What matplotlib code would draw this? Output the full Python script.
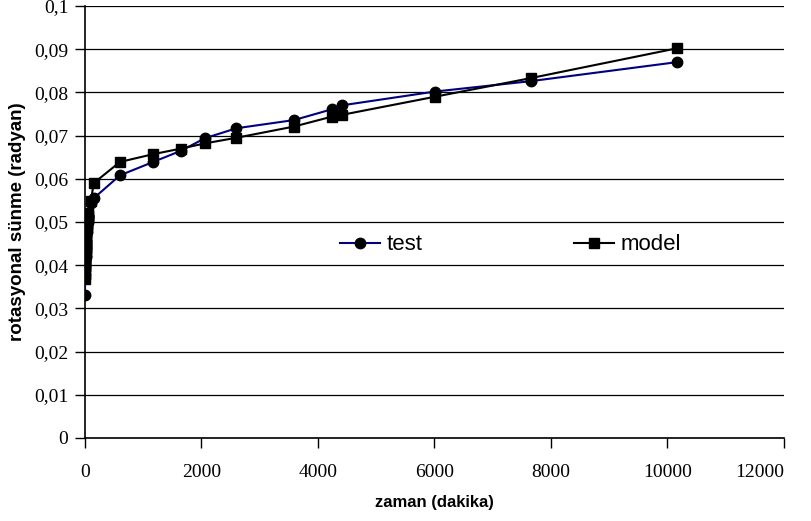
import matplotlib
matplotlib.use("Agg")
import matplotlib.pyplot as plt
from matplotlib.ticker import FixedLocator
from matplotlib.transforms import ScaledTranslation

# ---- data ----
time_min = [0, 1, 2, 3, 4, 5, 6, 7, 8, 9, 10, 12, 14, 16, 18, 20, 25, 30, 35, 40,
            45, 50, 55, 60, 100, 150, 600, 1170, 1650, 2060, 2600, 3590, 4240,
            4410, 6010, 7650, 10160]
test = [0.0330, 0.0370, 0.0380, 0.0388, 0.0395, 0.0400, 0.0405, 0.0410, 0.0414,
        0.0418, 0.0422, 0.0430, 0.0437, 0.0443, 0.0449, 0.0455, 0.0467, 0.0477,
        0.0486, 0.0494, 0.0500, 0.0506, 0.0511, 0.0515, 0.0543, 0.0555, 0.0608,
        0.0639, 0.0665, 0.0694, 0.0717, 0.0736, 0.0761, 0.0770, 0.0802, 0.0826,
        0.0870]
model = [0.0368, 0.0385, 0.0395, 0.0403, 0.0410, 0.0416, 0.0421, 0.0426, 0.0430,
         0.0434, 0.0438, 0.0445, 0.0451, 0.0457, 0.0462, 0.0467, 0.0477, 0.0486,
         0.0494, 0.0500, 0.0506, 0.0511, 0.0516, 0.0520, 0.0548, 0.0590, 0.0639,
         0.0657, 0.0670, 0.0682, 0.0695, 0.0721, 0.0744, 0.0748, 0.0790, 0.0833,
         0.0902]
x_ticks = [0, 2000, 4000, 6000, 8000, 10000, 12000]
x_tick_labels = ["0", "2000", "4000", "6000", "8000", "10000", "12000"]
y_ticks = [0, 0.01, 0.02, 0.03, 0.04, 0.05, 0.06, 0.07, 0.08, 0.09, 0.1]
y_tick_labels = ["0", "0,01", "0,02", "0,03", "0,04", "0,05", "0,06", "0,07",
                 "0,08", "0,09", "0,1"]
series_names = ["test", "model"]
x_label = "zaman (dakika)"
y_label = "rotasyonal sünme (radyan)"

# ---- figure ----
fig = plt.figure(figsize=(8.12, 5.21), dpi=100)
ax = fig.add_axes([85 / 812, 1 - 438 / 521, 699 / 812, 432 / 521])

ax.plot(time_min, test, color="#000080", lw=1.5, marker="o", ms=7.5,
        mfc="black", mec="black", label=series_names[0], zorder=3)
ax.plot(time_min, model, color="black", lw=1.5, marker="s", ms=7,
        mfc="black", mec="black", label=series_names[1], zorder=4)

ax.set_xlim(0, 12000)
ax.set_ylim(0, 0.1)
ax.xaxis.set_major_locator(FixedLocator(x_ticks))
ax.yaxis.set_major_locator(FixedLocator(y_ticks))
ax.set_xticklabels(x_tick_labels, family="Liberation Serif", fontsize=14)
ax.set_yticklabels(y_tick_labels, family="Liberation Serif", fontsize=14)
ax.tick_params(axis="both", direction="out", length=7, width=1, color="black")
ax.tick_params(axis="x", pad=12)
ax.tick_params(axis="y", pad=5)

# last x label is pulled inward as in the reference
last = ax.get_xticklabels()[-1]
last.set_transform(last.get_transform() +
                   ScaledTranslation(-0.24, 0, fig.dpi_scale_trans))

ax.grid(axis="y", color="black", lw=0.9)
ax.set_axisbelow(True)
for s in ["top", "right"]:
    ax.spines[s].set_visible(False)
for s in ["left", "bottom"]:
    ax.spines[s].set_linewidth(1.2)
    ax.spines[s].set_color("black")

ax.set_xlabel(x_label, family="Liberation Sans", fontweight="bold",
              fontsize=12, labelpad=10)
ax.set_ylabel(y_label, family="Liberation Sans", fontweight="bold",
              fontsize=13.5, labelpad=6)

leg = ax.legend(loc="center left", bbox_to_anchor=(255 / 699, (438 - 245) / 432),
                ncol=2, frameon=False, borderpad=0, borderaxespad=0,
                handlelength=1.8, handletextpad=0.3, columnspacing=6.8,
                prop={"family": "Liberation Sans", "size": 16})

fig.savefig("out.png", dpi=100)
